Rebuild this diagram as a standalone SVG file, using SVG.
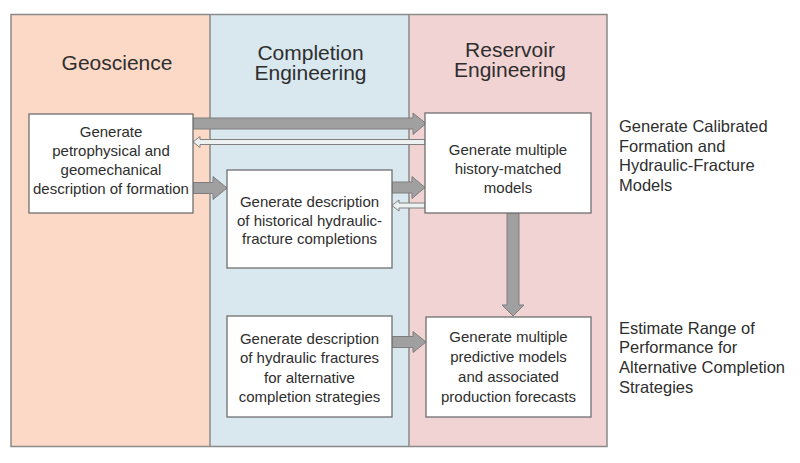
<svg xmlns="http://www.w3.org/2000/svg" width="800" height="463" viewBox="0 0 800 463">
<style>
text{font-family:"Liberation Sans",Arial,sans-serif;fill:#2e2e2e}
.h{font-size:21px;text-anchor:middle}
.b{font-size:15px;text-anchor:middle}
.r{font-size:16.5px}
.box{fill:#fff;stroke:#6f6f6f;stroke-width:1.3}
.big{fill:#a0a0a0;stroke:#7e7e7e;stroke-width:1}
.thin{fill:#eef1f2;stroke:#808080;stroke-width:1}
</style>
<rect width="800" height="463" fill="#fff"/>
<g id="lanes">
<rect x="11" y="14.5" width="199" height="432" fill="#fcd9c7"/>
<rect x="210" y="14.5" width="199" height="432" fill="#d9e8ee"/>
<rect x="409" y="14.5" width="198" height="432" fill="#f2d3d3"/>
<line x1="210" y1="14.5" x2="210" y2="446.5" stroke="#8a8a8a" stroke-width="1.5"/>
<line x1="409" y1="14.5" x2="409" y2="446.5" stroke="#8a8a8a" stroke-width="1.5"/>
<rect x="11" y="14.5" width="596" height="432" fill="none" stroke="#8a8a8a" stroke-width="1.5"/>
<text class="h" x="117" y="69.5">Geoscience</text>
<text class="h" x="310.5" y="60">Completion</text>
<text class="h" x="310.5" y="80">Engineering</text>
<text class="h" x="510" y="57">Reservoir</text>
<text class="h" x="510" y="77">Engineering</text>
</g>
<g id="connectors">
<path class="big" d="M193,118 H413 V113 L426,123.5 L413,134.5 V129 H193 Z"/>
<path class="thin" d="M425,139.5 H200 V136.5 L193,142 L200,147.5 V144.5 H425 Z"/>
<path class="big" d="M193,182.5 H213 V176.5 L227,188 L213,199.5 V193.5 H193 Z"/>
<path class="big" d="M392,182 H412 V176.5 L425,187.5 L412,198.5 V193 H392 Z"/>
<path class="thin" d="M425,203 H399 V200 L392,205.5 L399,211 V208 H425 Z"/>
<path class="big" d="M507,213 V305 H502 L513,316 L524,305 H519 V213 Z"/>
<path class="big" d="M392,336.5 H413 V331.5 L426,342 L413,352.5 V347.5 H392 Z"/>
</g>
<g id="geo">
<rect class="box" x="29" y="114" width="164" height="99"/>
<text class="b" x="111" y="137">Generate</text>
<text class="b" x="111" y="156">petrophysical and</text>
<text class="b" x="111" y="175">geomechanical</text>
<text class="b" x="111" y="194">description of formation</text>
</g>
<g id="comp1">
<rect class="box" x="227" y="170" width="165" height="98"/>
<text class="b" x="309.5" y="207">Generate description</text>
<text class="b" x="309.5" y="225.5">of historical hydraulic-</text>
<text class="b" x="309.5" y="244">fracture completions</text>
</g>
<g id="res1">
<rect class="box" x="425" y="113" width="166" height="100"/>
<text class="b" x="508" y="155">Generate multiple</text>
<text class="b" x="508" y="174">history-matched</text>
<text class="b" x="508" y="193">models</text>
</g>
<g id="comp2">
<rect class="box" x="227" y="316" width="165" height="101"/>
<text class="b" x="309.5" y="344">Generate description</text>
<text class="b" x="309.5" y="363">of hydraulic fractures</text>
<text class="b" x="309.5" y="382.5">for alternative</text>
<text class="b" x="309.5" y="401.5">completion strategies</text>
</g>
<g id="res2">
<rect class="box" x="426" y="317" width="165" height="100"/>
<text class="b" x="508.5" y="342">Generate multiple</text>
<text class="b" x="508.5" y="362">predictive models</text>
<text class="b" x="508.5" y="382">and associated</text>
<text class="b" x="508.5" y="401.5">production forecasts</text>
</g>
<g id="label1">
<text class="r" x="619" y="131.5">Generate Calibrated</text>
<text class="r" x="619" y="151.5">Formation and</text>
<text class="r" x="619" y="171">Hydraulic-Fracture</text>
<text class="r" x="619" y="191">Models</text>
</g>
<g id="label2">
<text class="r" x="619" y="333.5">Estimate Range of</text>
<text class="r" x="619" y="353">Performance for</text>
<text class="r" x="619" y="373">Alternative Completion</text>
<text class="r" x="619" y="392.5">Strategies</text>
</g>
</svg>
